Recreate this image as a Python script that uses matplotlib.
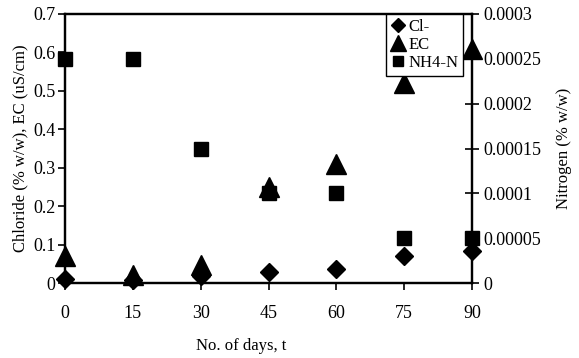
import numpy as np
import matplotlib
matplotlib.use("Agg")
import matplotlib.pyplot as plt

plt.rcParams['font.family'] = ['Liberation Serif', 'DejaVu Serif']
plt.rcParams['font.size'] = 12

# sampling days and measured values
days = [0, 15, 30, 45, 60, 75, 90]
chloride = [0.011, 0.008, 0.017, 0.028, 0.036, 0.071, 0.082]
ec = [0.071, 0.02, 0.047, 0.25, 0.31, 0.52, 0.61]
nh4_n = [0.00025, 0.00025, 0.00015, 0.0001, 0.0001, 0.00005, 0.00005]

left_ticks = [0, 0.1, 0.2, 0.3, 0.4, 0.5, 0.6, 0.7]
left_labels = ["0", "0.1", "0.2", "0.3", "0.4", "0.5", "0.6", "0.7"]
right_ticks = [0, 0.00005, 0.0001, 0.00015, 0.0002, 0.00025, 0.0003]
right_labels = ["0", "0.00005", "0.0001", "0.00015", "0.0002", "0.00025", "0.0003"]

fig = plt.figure(figsize=(5.79, 3.58), dpi=100)
ax = fig.add_axes([65/579, 1-283/358, (472-65)/579, (283-14)/358])
ax2 = ax.twinx()

h1, = ax.plot(days, chloride, 'D', color='black', ms=9.2, clip_on=False, zorder=3, label='Cl-')
h2, = ax.plot(days, ec, '^', color='black', ms=14, clip_on=False, zorder=3, label='EC')
h3, = ax2.plot(days, nh4_n, 's', color='black', ms=9.5, clip_on=False, zorder=3, label='NH4-N')

ax.set_xlim(0, 90)
ax.set_ylim(0, 0.7)
ax2.set_ylim(0, 0.0003)
ax.set_xticks(days)
ax.set_yticks(left_ticks)
ax.set_yticklabels(left_labels)
ax2.set_yticks(right_ticks)
ax2.set_yticklabels(right_labels)

for a in (ax, ax2):
    for s in a.spines.values():
        s.set_linewidth(1.6)
        s.set_color('black')
ax.tick_params(axis='x', direction='out', length=5, width=1.2, pad=11, labelsize=13)
ax.tick_params(axis='y', direction='out', length=5, width=1.2, pad=2, labelsize=13)
ax2.tick_params(axis='y', direction='inout', length=10, width=1.2, pad=3, labelsize=13)

ax.set_xlabel("No. of days, t")
ax.xaxis.set_label_coords((241 - 65) / 407, -0.205)
ax.set_ylabel("Chloride (% w/w), EC (uS/cm)", labelpad=3)
ax2.set_ylabel("Nitrogen (% w/w)", labelpad=11)

leg = ax2.legend(handles=[h1, h2, h3], loc='upper right', bbox_to_anchor=(0.978, 1.0),
                 borderaxespad=0, markerscale=0.8, handlelength=0.8, handletextpad=0.2,
                 borderpad=0.3, labelspacing=0.12, fancybox=False, framealpha=1)
leg.get_frame().set_edgecolor('black')
leg.get_frame().set_linewidth(1.0)

fig.savefig("out.png", dpi=100)
